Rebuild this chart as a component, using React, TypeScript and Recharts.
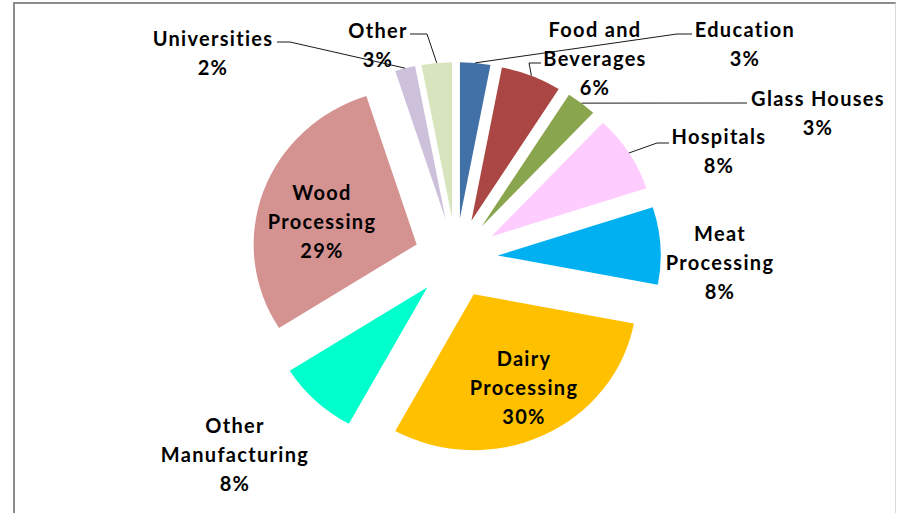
import React from "react";
import { Cell, Pie, PieChart } from "recharts";

// categories clockwise from 12 o'clock, shares in percent
const categories = [
  "Education",
  "Food and Beverages",
  "Glass Houses",
  "Hospitals",
  "Meat Processing",
  "Dairy Processing",
  "Other Manufacturing",
  "Wood Processing",
  "Universities",
  "Other",
];
const shares = [3, 6, 3, 8, 8, 30, 8, 29, 2, 3];
const sliceColors = [
  "#4271A8",
  "#AA4643",
  "#89A54E",
  "#FFCCFF",
  "#00B0F0",
  "#FFC000",
  "#00FFCC",
  "#D49291",
  "#CCC0DA",
  "#D7E4BD",
];

const chartData = categories.map((name, i) => ({ name, value: shares[i] }));

const RADIAN = Math.PI / 180;
const EXPLODE = 40;
const STRETCH_X = 1.045;
const FONT = "Lato, 'Open Sans', sans-serif";

// where each data label sits (first line centre) and its leader bends
const labelLayout: Record<string, { x: number; y: number; lines: string[]; leader?: number[][] }> = {
  Education: { x: 745, y: 29, lines: ["Education"], leader: [[692, 34], [677, 34]] },
  "Food and Beverages": { x: 595, y: 29, lines: ["Food and", "Beverages"], leader: [[541, 63], [529, 63]] },
  "Glass Houses": { x: 818, y: 98, lines: ["Glass Houses"], leader: [[747, 103]] },
  Hospitals: { x: 719, y: 136, lines: ["Hospitals"], leader: [[669, 143], [657, 143]] },
  "Meat Processing": { x: 720, y: 233, lines: ["Meat", "Processing"] },
  "Dairy Processing": { x: 524, y: 358, lines: ["Dairy", "Processing"] },
  "Other Manufacturing": { x: 235, y: 425, lines: ["Other", "Manufacturing"] },
  "Wood Processing": { x: 322, y: 192, lines: ["Wood", "Processing"] },
  Universities: { x: 213, y: 38, lines: ["Universities"], leader: [[277, 42], [290, 42]] },
  Other: { x: 378, y: 30, lines: ["Other"], leader: [[410, 34], [427, 34]] },
};

const explodedApex = (cx: number, cy: number, t: number) => ({
  x: cx + EXPLODE * STRETCH_X * Math.sin(t),
  y: cy - EXPLODE * Math.cos(t),
});

const ExplodedSlice = (props: any) => {
  const { cx, cy, startAngle, endAngle, outerRadius, fill } = props;
  const t0 = (90 - startAngle) * RADIAN;
  const t1 = (90 - endAngle) * RADIAN;
  const apex = explodedApex(cx, cy, (t0 + t1) / 2);
  const rx = outerRadius * STRETCH_X;
  const ry = outerRadius;
  const x0 = apex.x + rx * Math.sin(t0);
  const y0 = apex.y - ry * Math.cos(t0);
  const x1 = apex.x + rx * Math.sin(t1);
  const y1 = apex.y - ry * Math.cos(t1);
  const large = t1 - t0 > Math.PI ? 1 : 0;
  return (
    <path
      d={`M${apex.x},${apex.y} L${x0},${y0} A${rx},${ry} 0 ${large} 1 ${x1},${y1} Z`}
      fill={fill}
      stroke="none"
    />
  );
};

const renderLabel = (props: any) => {
  const { cx, cy, midAngle, outerRadius, name, percent } = props;
  const layout = labelLayout[name];
  if (!layout) return null;
  const t = (90 - midAngle) * RADIAN;
  const apex = explodedApex(cx, cy, t);
  const edge = [apex.x + outerRadius * STRETCH_X * Math.sin(t), apex.y - outerRadius * Math.cos(t)];
  const lines = [...layout.lines, `${Math.round(percent * 100)}%`];
  return (
    <g>
      {layout.leader && (
        <polyline
          points={[...layout.leader, edge].map((p) => p.join(",")).join(" ")}
          fill="none"
          stroke="#1a1a1a"
          strokeWidth={1}
        />
      )}
      <text
        x={layout.x}
        y={layout.y}
        textAnchor="middle"
        dominantBaseline="central"
        fill="#000"
        fontFamily={FONT}
        fontWeight="bold"
        fontSize={20}
        letterSpacing={1.3}
      >
        {lines.map((line, i) => (
          <tspan key={i} x={layout.x} y={layout.y + i * 29}>
            {line}
          </tspan>
        ))}
      </text>
    </g>
  );
};

export default function App() {
  return (
    <div style={{ position: "absolute", left: 0, top: 0, width: 897, height: 513, background: "#fff", overflow: "hidden" }}>
      <div
        style={{
          position: "absolute",
          left: 13,
          top: 2,
          width: 880,
          height: 540,
          borderTop: "2px solid #8c8c8c",
          borderLeft: "2px solid #8c8c8c",
          borderRight: "1px solid #d9d9d9",
        }}
      />
      <PieChart width={897} height={513} margin={{ top: 0, right: 0, bottom: 0, left: 0 }} style={{ position: "absolute", left: 0, top: 0 }}>
        <Pie
          data={chartData}
          dataKey="value"
          nameKey="name"
          cx={456}
          cy={258}
          outerRadius={156}
          startAngle={90}
          endAngle={-270}
          shape={ExplodedSlice}
          activeShape={ExplodedSlice}
          inactiveShape={ExplodedSlice}
          label={renderLabel}
          labelLine={false}
          isAnimationActive={false}
        >
          {chartData.map((entry, i) => (
            <Cell key={entry.name} fill={sliceColors[i]} />
          ))}
        </Pie>
      </PieChart>
    </div>
  );
}
